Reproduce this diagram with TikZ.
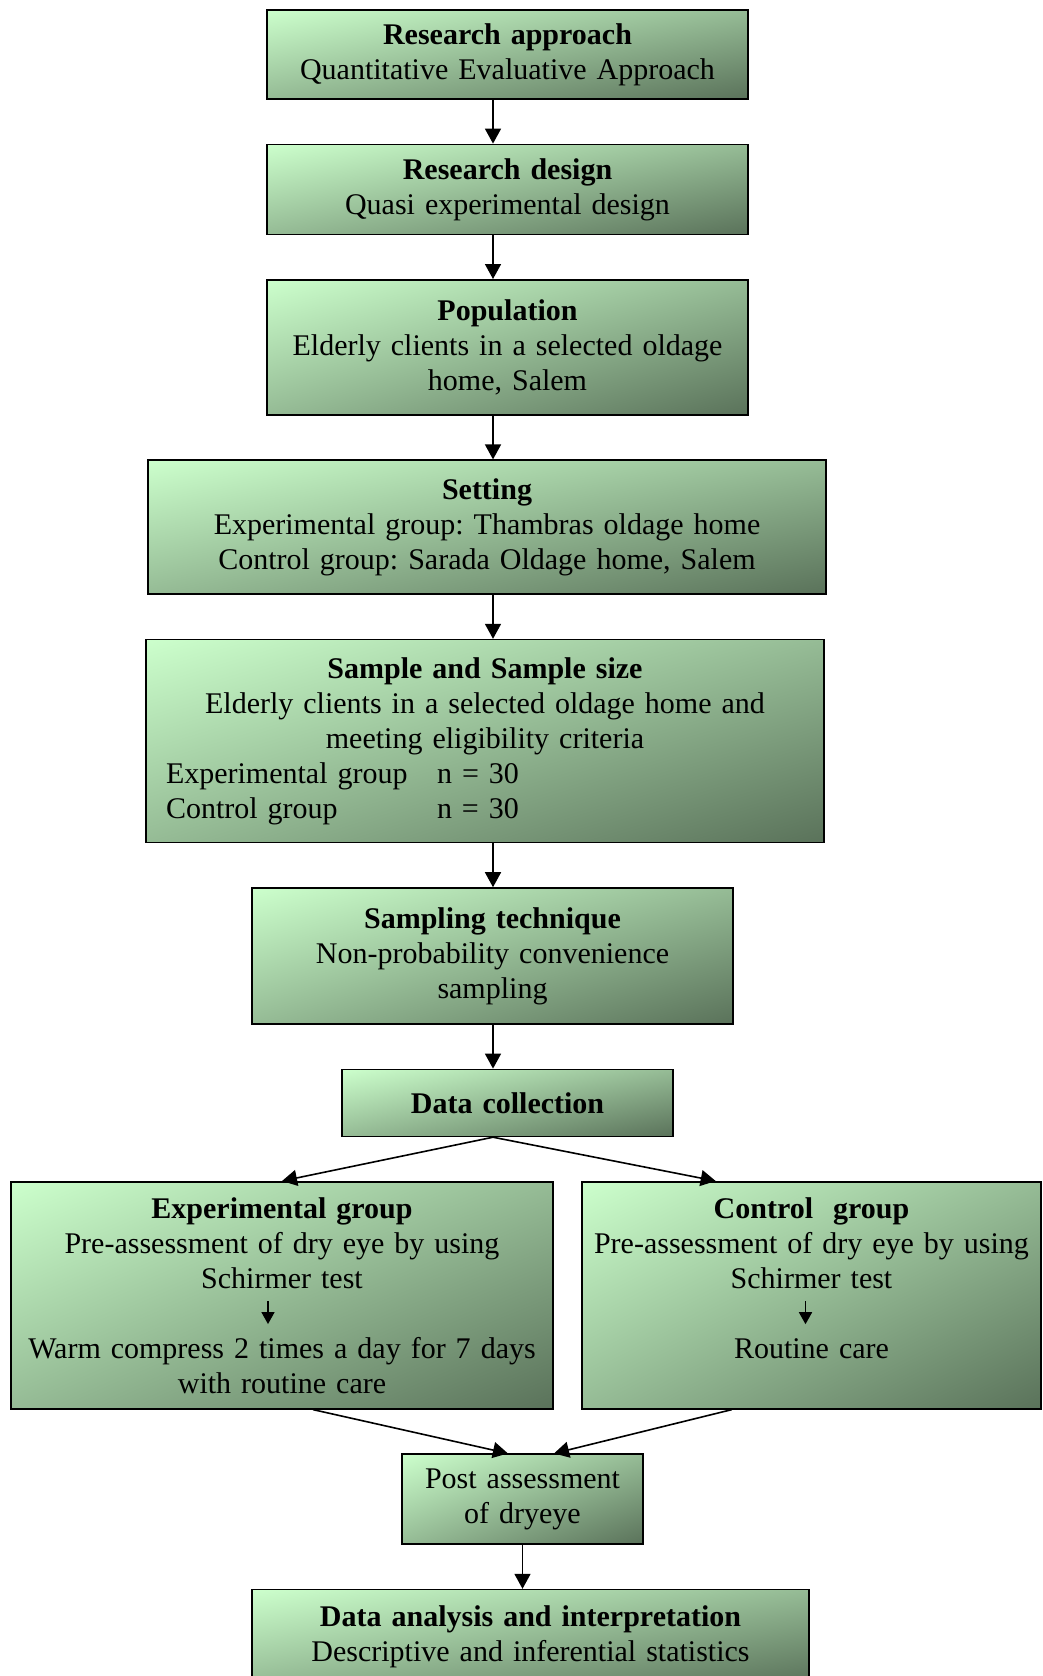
\documentclass[tikz,border=0pt]{standalone}
\usepackage{fontspec}
\setmainfont{Liberation Serif}
\usepackage{tikz}
\usetikzlibrary{arrows.meta, positioning, calc, shadings}

\definecolor{boxlight}{RGB}{204,255,204}
\definecolor{boxdark}{RGB}{90,114,90}
\colorlet{boxmid}{boxlight!52!boxdark}

\newcommand{\downtip}{\tikz[baseline=0pt]\draw[line width=1.6pt,-{Triangle[width=13pt,length=12pt]}] (0pt,22pt) -- (0pt,-1pt);}

\begin{document}
\frenchspacing
\begin{tikzpicture}[
    x=1pt, y=-1pt,
    node distance=43.8pt,
    stage/.style={rectangle, draw=black, line width=1.6pt,
                  upper left=boxlight, lower right=boxdark,
                  upper right=boxmid, lower left=boxmid, inner sep=0pt,
                  align=center, font=\fontsize{30pt}{35pt}\selectfont},
    arr/.style={-{Triangle[width=16pt,length=15pt]}, line width=1.6pt},
  ]
  \useasboundingbox (0,0) rectangle (1042,1676);
  \coordinate (spine) at (493,0);

  % main chain
  \node[stage, text width=481pt, minimum height=89pt] (appr) at (507.5,54.5)
    {\textbf{Research approach}\\Quantitative Evaluative Approach};
  \node[stage, text width=481pt, minimum height=90pt, below=of appr] (design)
    {\textbf{Research design}\\Quasi experimental design};
  \node[stage, text width=481pt, minimum height=135pt, below=of design] (popul)
    {\textbf{Population}\\Elderly clients in a selected oldage\\home, Salem};
  \node[stage, text width=678pt, minimum height=134pt, below=of popul, xshift=-20.5pt] (setting)
    {\textbf{Setting}\\Experimental group: Thambras oldage home\\Control group: Sarada Oldage home, Salem};
  \node[stage, text width=678pt, minimum height=203pt, below=of setting, xshift=-2pt] (sample)
    {\textbf{Sample and Sample size}\\Elderly clients in a selected oldage home and\\meeting eligibility criteria\\
     \makebox[\linewidth][l]{\hspace*{20pt}\makebox[271pt][l]{Experimental group}n = 30}\\
     \makebox[\linewidth][l]{\hspace*{20pt}\makebox[271pt][l]{Control group}n = 30}};
  \node[stage, text width=481pt, minimum height=136pt, below=of sample, xshift=7.5pt] (technique)
    {\textbf{Sampling technique}\\Non-probability convenience\\sampling};
  \node[stage, text width=331pt, minimum height=67pt, below=of technique, xshift=15pt] (collect)
    {\textbf{Data collection}};

  % groups
  \node[stage, text width=542pt, minimum height=227pt, below=of collect, xshift=-225.5pt] (exp)
    {\textbf{Experimental group}\\Pre-assessment of dry eye by using\\Schirmer test\\
     \hspace*{-28pt}\downtip\\Warm compress 2 times a day for 7 days\\with routine care};
  \node[stage, text width=459pt, minimum height=227pt, below=of collect, xshift=304pt] (ctrl)
    {\textbf{Control\ \ group}\\Pre-assessment of dry eye by using\\Schirmer test\\
     \hspace*{-12pt}\downtip\\Routine care\\\mbox{}};

  \node[stage, text width=241pt, minimum height=90pt, below=of exp, xshift=240.5pt] (post)
    {Post assessment\\of dryeye};
  \node[stage, text width=557pt, minimum height=94pt, below=of post, xshift=8pt] (analysis)
    {\textbf{Data analysis and interpretation}\\Descriptive and inferential statistics};

  \draw[arr] (appr.south -| spine) -- (design.north -| spine);
  \draw[arr] (design.south -| spine) -- (popul.north -| spine);
  \draw[arr] (popul.south -| spine) -- (setting.north -| spine);
  \draw[arr] (setting.south -| spine) -- (sample.north -| spine);
  \draw[arr] (sample.south -| spine) -- (technique.north -| spine);
  \draw[arr] (technique.south -| spine) -- (collect.north -| spine);

  % split and merge
  \draw[arr] (collect.south -| spine) -- (exp.north);
  \draw[arr] (collect.south -| spine) -- ($(ctrl.north west)!0.292!(ctrl.north east)$);
  \draw[arr] ($(exp.south west)!0.557!(exp.south east)$) -- ($(post.north west)!0.44!(post.north east)$);
  \draw[arr] ($(ctrl.south west)!0.327!(ctrl.south east)$) -- ($(post.north west)!0.63!(post.north east)$);
  \draw[arr] (post.south) -- (analysis.north -| post.south);
\end{tikzpicture}
\end{document}
